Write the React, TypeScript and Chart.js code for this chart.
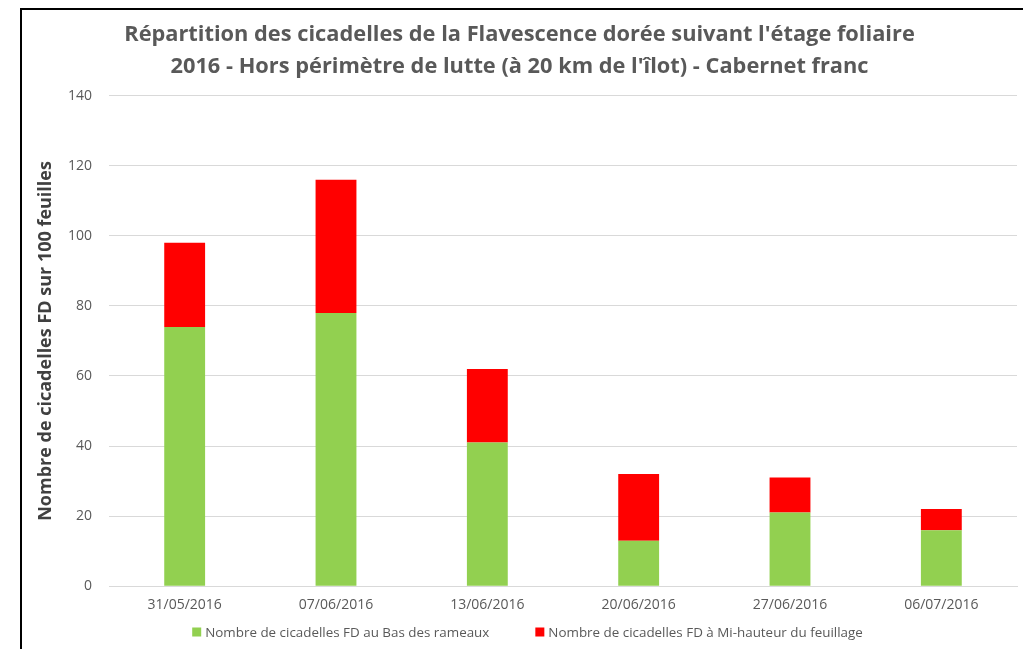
import React, { useEffect, useRef } from "react";
import { Chart, registerables } from "chart.js";

Chart.register(...registerables);

const categories = ["31/05/2016", "07/06/2016", "13/06/2016", "20/06/2016", "27/06/2016", "06/07/2016"];
const basRameaux = [74, 78, 41, 13, 21, 16];
const miHauteur = [24, 38, 21, 19, 10, 6];
const seriesLabels = [
  "Nombre de cicadelles FD au Bas des rameaux",
  "Nombre de cicadelles FD à Mi-hauteur du feuillage",
];
const titleLines = [
  "Répartition des cicadelles de la Flavescence dorée suivant l'étage foliaire",
  "2016 - Hors périmètre de lutte (à 20 km de l'îlot) - Cabernet franc",
];
const yTitle = "Nombre de cicadelles FD sur 100 feuilles";

const FONT = "'Open Sans', Lato, sans-serif";
const GREY = "#595959";

const customLegend = {
  id: "customLegend",
  afterDraw(chart: any) {
    const ctx = chart.ctx;
    const ds = chart.data.datasets;
    ctx.save();
    ctx.font = `13.4px ${FONT}`;
    ctx.textBaseline = "middle";
    const box = 9;
    const gapText = 4;
    const gapItem = 46;
    const widths = ds.map((d: any) => box + gapText + ctx.measureText(d.label).width);
    const total = widths.reduce((a: number, b: number) => a + b, 0) + gapItem * (ds.length - 1);
    let x = chart.width / 2 + 3 - total / 2;
    const y = 622;
    ds.forEach((d: any, i: number) => {
      ctx.fillStyle = d.backgroundColor;
      ctx.fillRect(x, y - box / 2, box, box);
      ctx.fillStyle = GREY;
      ctx.textAlign = "left";
      ctx.fillText(d.label, x + box + gapText, y + 1);
      x += widths[i] + gapItem;
    });
    ctx.restore();
  },
};

export default function App() {
  const ref = useRef<HTMLCanvasElement>(null);
  useEffect(() => {
    if (!ref.current) return;
    const chart = new Chart(ref.current, {
      type: "bar",
      data: {
        labels: categories,
        datasets: [
          { label: seriesLabels[0], data: basRameaux, backgroundColor: "#92D050", barPercentage: 0.27, categoryPercentage: 1 },
          { label: seriesLabels[1], data: miHauteur, backgroundColor: "#FF0000", barPercentage: 0.27, categoryPercentage: 1 },
        ],
      },
      options: {
        responsive: false,
        animation: false,
        layout: { padding: { left: 0, right: 10, top: 0, bottom: 43 } },
        plugins: {
          legend: { display: false },
          tooltip: { enabled: false },
          title: {
            display: true,
            text: titleLines,
            color: GREY,
            font: { family: FONT, size: 21.8, weight: "bold", lineHeight: 1.46 },
            padding: { top: 9, bottom: 13 },
          },
        },
        scales: {
          x: {
            stacked: true,
            grid: { display: false, drawTicks: false },
            border: { color: "#D9D9D9", width: 1 },
            ticks: { color: GREY, font: { family: FONT, size: 14 }, padding: 10, maxRotation: 0 },
          },
          y: {
            stacked: true,
            min: 0,
            max: 140,
            ticks: { stepSize: 20, color: GREY, font: { family: FONT, size: 14 }, padding: 17 },
            grid: { color: "#D9D9D9", drawTicks: false },
            border: { display: false },
            title: {
              display: true,
              text: yTitle,
              color: "#404040",
              font: { family: FONT, size: 18, weight: "bold" },
              padding: { top: 13, bottom: 0 },
            },
            afterFit: (scale: any) => {
              scale.width = 87;
            },
          },
        },
      },
      plugins: [customLegend],
    });
    return () => chart.destroy();
  }, []);

  return (
    <div style={{ marginLeft: 12, width: 1005, height: 656, border: "2px solid #000", background: "#fff" }}>
      <canvas ref={ref} width={1005} height={656} style={{ display: "block" }} />
    </div>
  );
}
